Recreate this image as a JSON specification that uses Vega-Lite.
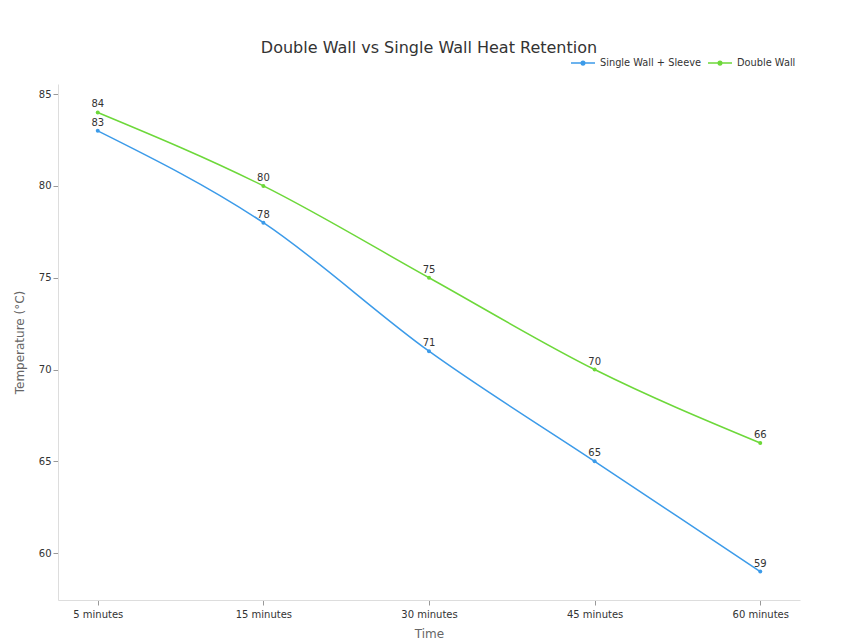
{
  "$schema": "https://vega.github.io/schema/vega-lite/v6.json",
  "width": 742,
  "height": 516,
  "autosize": "none",
  "padding": {"left": 58, "top": 84, "right": 52, "bottom": 39},
  "background": "white",
  "config": {
    "font": "DejaVu Sans",
    "view": {"stroke": null},
    "axis": {"labelColor": "#333", "titleColor": "#666", "titleFontWeight": "normal", "titleFontSize": 12, "labelFontSize": 10, "domainColor": "#ddd", "tickColor": "#999", "grid": false}
  },
  "title": {"text": "Double Wall vs Single Wall Heat Retention", "fontSize": 16, "fontWeight": "normal", "color": "#333", "anchor": "middle", "offset": -6},
  "data": {
    "values": [
      {"time": "5 minutes", "series": "Single Wall + Sleeve", "temp": 83},
      {"time": "15 minutes", "series": "Single Wall + Sleeve", "temp": 78},
      {"time": "30 minutes", "series": "Single Wall + Sleeve", "temp": 71},
      {"time": "45 minutes", "series": "Single Wall + Sleeve", "temp": 65},
      {"time": "60 minutes", "series": "Single Wall + Sleeve", "temp": 59},
      {"time": "5 minutes", "series": "Double Wall", "temp": 84},
      {"time": "15 minutes", "series": "Double Wall", "temp": 80},
      {"time": "30 minutes", "series": "Double Wall", "temp": 75},
      {"time": "45 minutes", "series": "Double Wall", "temp": 70},
      {"time": "60 minutes", "series": "Double Wall", "temp": 66}
    ]
  },
  "encoding": {
    "x": {"field": "time", "type": "ordinal", "sort": null, "scale": {"type": "point", "padding": 0.24}, "title": "Time", "axis": {"labelAngle": 0, "tickSize": 5, "labelPadding": 4, "titlePadding": 9}},
    "y": {"field": "temp", "type": "quantitative", "scale": {"domain": [57.45, 85.55], "nice": false, "zero": false}, "title": "Temperature (°C)", "axis": {"values": [60, 65, 70, 75, 80, 85], "tickSize": 5, "labelPadding": 2, "titlePadding": 12}},
    "color": {"field": "series", "type": "nominal", "sort": ["Single Wall + Sleeve", "Double Wall"], "scale": {"domain": ["Single Wall + Sleeve", "Double Wall"], "range": ["#3c9be9", "#6dd83a"]}, "legend": {"title": null, "orient": "none", "direction": "horizontal", "legendX": 512, "legendY": -34, "symbolType": "M-1,0H1M-0.15,0A0.15,0.15 0 1,0 0.15,0A0.15,0.15 0 1,0 -0.15,0", "symbolSize": 576, "symbolStrokeWidth": 1.5, "labelFontSize": 9.8, "labelColor": "#333", "columnPadding": 4, "labelOffset": 4}}
  },
  "layer": [
    {"mark": {"type": "line", "interpolate": "monotone", "strokeWidth": 1.5, "point": {"size": 16, "filled": true}}},
    {"mark": {"type": "text", "dy": -8, "fontSize": 10, "color": "#333"}, "encoding": {"text": {"field": "temp", "type": "quantitative"}, "color": {"value": "#333"}}}
  ]
}
